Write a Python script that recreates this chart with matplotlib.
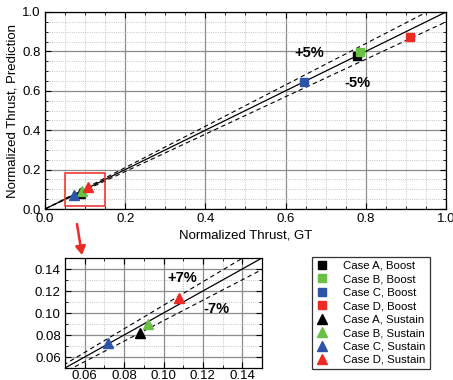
import numpy as np
import matplotlib
matplotlib.use("Agg")
import matplotlib.pyplot as plt
from matplotlib.patches import Rectangle

# data
cases = ["Case A", "Case B", "Case C", "Case D"]
colors = ["#000000", "#6abf45", "#2e54a8", "#ee2a24"]
boost_gt = [0.778, 0.786, 0.647, 0.911]
boost_pred = [0.777, 0.798, 0.646, 0.875]
sustain_gt = [0.088, 0.092, 0.072, 0.108]
sustain_pred = [0.082, 0.090, 0.073, 0.114]

W, H = 453, 380
fig = plt.figure(figsize=(W / 100, H / 100), dpi=100)
plt.rcParams["font.family"] = ["Liberation Sans", "DejaVu Sans"]


def px_axes(l, t, r, b):
    return fig.add_axes([l / W, 1 - b / H, (r - l) / W, (b - t) / H])


def style(ax, major, minor):
    ax.xaxis.set_major_locator(plt.MultipleLocator(major))
    ax.yaxis.set_major_locator(plt.MultipleLocator(major))
    ax.xaxis.set_minor_locator(plt.MultipleLocator(minor))
    ax.yaxis.set_minor_locator(plt.MultipleLocator(minor))
    ax.grid(which="major", color="#8c8c8c", lw=0.9)
    ax.grid(which="minor", color="#b0b0b0", lw=0.6, ls=":")
    ax.tick_params(which="both", direction="in", top=True, right=True,
                   labelsize=9.5, pad=3)
    ax.tick_params(which="major", length=4)
    ax.tick_params(which="minor", length=2)
    ax.set_axisbelow(True)
    for s in ax.spines.values():
        s.set_linewidth(0.9)


# main plot
ax = px_axes(45, 12, 446, 209)
style(ax, 0.2, 0.05)
xx = np.array([0, 1.0])
ax.plot(xx, xx, color="k", lw=0.9)
ax.plot(xx, 1.05 * xx, color="k", lw=0.8, ls=(0, (4, 3)))
ax.plot(xx, 0.95 * xx, color="k", lw=0.8, ls=(0, (4, 3)))
for c, col, gx, gy in zip(cases, colors, boost_gt, boost_pred):
    ax.plot(gx, gy, ls="none", marker="s", ms=5.5, color=col, label=c + ", Boost")
for c, col, gx, gy in zip(cases, colors, sustain_gt, sustain_pred):
    ax.plot(gx, gy, ls="none", marker="^", ms=6.5, color=col, label=c + ", Sustain")
ax.set_xlim(0, 1)
ax.set_ylim(0, 1)
ax.xaxis.set_major_formatter(plt.FormatStrFormatter("%.1f"))
ax.yaxis.set_major_formatter(plt.FormatStrFormatter("%.1f"))
ax.set_ylabel("Normalized Thrust, Prediction", fontsize=9.5, labelpad=3)
ax.set_xlabel("Normalized Thrust, GT", fontsize=9.5, labelpad=3)
ax.text(0.66, 0.79, "+5%", fontsize=10.5, fontweight="bold", ha="center", va="center")
ax.text(0.778, 0.64, "-5%", fontsize=10.5, fontweight="bold", ha="center", va="center")
ax.add_patch(Rectangle((0.05, 0.015), 0.10, 0.17, fill=False, ec="#ee2a24", lw=1.1, zorder=5))

# zoomed inset
ax2 = px_axes(65, 258, 262, 368)
style(ax2, 0.02, 0.01)
ax2.tick_params(axis="x", pad=1.5)
xx2 = np.array([0.0, 0.2])
ax2.plot(xx2, xx2, color="k", lw=0.9)
ax2.plot(xx2, 1.07 * xx2, color="k", lw=0.8, ls=(0, (4, 3)))
ax2.plot(xx2, 0.93 * xx2, color="k", lw=0.8, ls=(0, (4, 3)))
for col, gx, gy in zip(colors, sustain_gt, sustain_pred):
    ax2.plot(gx, gy, ls="none", marker="^", ms=7, color=col)
ax2.set_xlim(0.05, 0.15)
ax2.set_ylim(0.05, 0.15)
ax2.xaxis.set_major_formatter(plt.FormatStrFormatter("%.2f"))
ax2.yaxis.set_major_formatter(plt.FormatStrFormatter("%.2f"))
ax2.text(0.1096, 0.132, "+7%", fontsize=10.5, fontweight="bold", ha="center", va="center")
ax2.text(0.127, 0.104, "-7%", fontsize=10.5, fontweight="bold", ha="center", va="center")

# arrow from the box down to the inset
fig.add_artist(matplotlib.patches.FancyArrowPatch(
    (77 / W, 1 - 224 / H), (82 / W, 1 - 255 / H), transform=fig.transFigure,
    arrowstyle="-|>,head_length=5,head_width=3", color="#ee2a24", lw=1.8,
    shrinkA=0, shrinkB=0))

h, l = ax.get_legend_handles_labels()
leg = fig.legend(h, l, loc="upper left", bbox_to_anchor=(312 / W, 1 - 257 / H),
                 fontsize=8.2, frameon=True, fancybox=False, edgecolor="k",
                 handlelength=1.0, handletextpad=1.4, labelspacing=0.3,
                 borderpad=0.35, borderaxespad=0)
leg.get_frame().set_linewidth(0.9)

fig.savefig("out.png", dpi=100)
